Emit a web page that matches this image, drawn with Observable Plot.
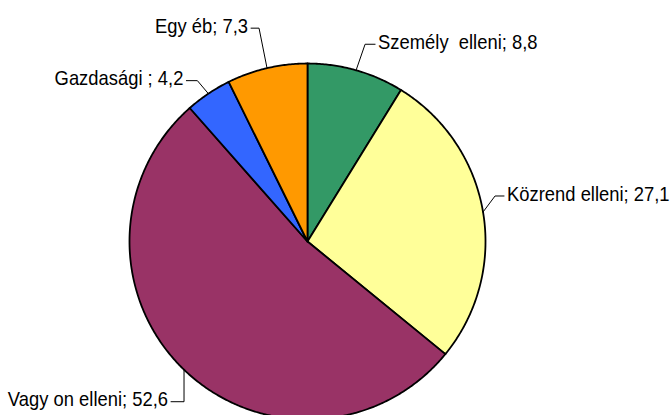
<!DOCTYPE html>
<html><head><meta charset="utf-8">
<script src="https://cdn.jsdelivr.net/npm/d3@7"></script>
<script src="https://cdn.jsdelivr.net/npm/@observablehq/plot@0.6"></script>
<style>html,body{margin:0;padding:0;background:#fff;overflow:hidden;}</style>
</head><body><div id="chart"></div>
<script>
// ---- data ----
const categories = ["Személy  elleni", "Közrend elleni", "Vagy on elleni", "Gazdasági ", "Egy éb"];
const values = [8.8, 27.1, 52.6, 4.2, 7.3];
const colors = ["#339966", "#FFFF99", "#993366", "#3366FF", "#FF9900"];
// ---- layout (label leader geometry, px) ----
const leaderOffsets = [[9, -26], [12, -16], [0, 32], [-11, -13], [-8, -40]];
const leaderTail = [10, 9, -13, -11, -8];

const R = 178; // pie radius in px-units
const total = d3.sum(values);
let acc = 0;
const slices = categories.map((name, i) => {
  const a0 = acc / total * 2 * Math.PI; acc += values[i];
  const a1 = acc / total * 2 * Math.PI;
  return {name, value: values[i], a0, a1, mid: (a0 + a1) / 2, i};
});
const polys = [];
for (const s of slices) {
  polys.push({name: s.name, x: 0, y: 0});
  const n = Math.max(2, Math.ceil((s.a1 - s.a0) / (Math.PI / 360)));
  for (let k = 0; k <= n; k++) {
    const a = s.a0 + (s.a1 - s.a0) * k / n;
    polys.push({name: s.name, x: R * Math.sin(a), y: R * Math.cos(a)});
  }
  polys.push({name: s.name, x: 0, y: 0});
}
const leaders = [];
const labels = [];
const fmt = v => v.toFixed(1).replace(".", ",");
for (const s of slices) {
  const x0 = R * Math.sin(s.mid), y0 = R * Math.cos(s.mid);
  const [dx, dy] = leaderOffsets[s.i];
  const x1 = x0 + dx, y1 = y0 - dy;
  const x2 = x1 + leaderTail[s.i];
  leaders.push({name: s.name, x: x0, y: y0}, {name: s.name, x: x1, y: y1}, {name: s.name, x: x2, y: y1});
  labels.push({x: x2, y: y1, side: leaderTail[s.i] > 0 ? "right" : "left", text: `${s.name}; ${fmt(s.value)}`});
}
const font = "Liberation Sans, Arial, sans-serif";
const chart = Plot.plot({
  width: 672, height: 415, margin: 0,
  style: {background: "#fff", overflow: "visible"},
  x: {domain: [-307, 365], axis: null},
  y: {domain: [-174, 241], axis: null},
  color: {domain: categories, range: colors},
  marks: [
    Plot.line(polys, {x: "x", y: "y", z: "name", fill: "name", stroke: "black", strokeWidth: 1.8, strokeLinejoin: "round"}),
    Plot.line(leaders, {x: "x", y: "y", z: "name", stroke: "black", strokeWidth: 1}),
    Plot.text(labels.filter(d => d.side === "right"), {x: "x", y: "y", text: "text", textAnchor: "start", dx: 3, dy: -1.5, fontSize: 20, fontFamily: font, fill: "black"}),
    Plot.text(labels.filter(d => d.side === "left"), {x: "x", y: "y", text: "text", textAnchor: "end", dx: -3, dy: -2, fontSize: 20, fontFamily: font, fill: "black"})
  ]
});
chart.querySelectorAll('g[aria-label="text"] text').forEach(t => {
  const tr = t.getAttribute("transform") || "";
  t.setAttribute("transform", `${tr} scale(0.92,1)`);
});
document.getElementById("chart").appendChild(chart);
</script>
</body></html>
